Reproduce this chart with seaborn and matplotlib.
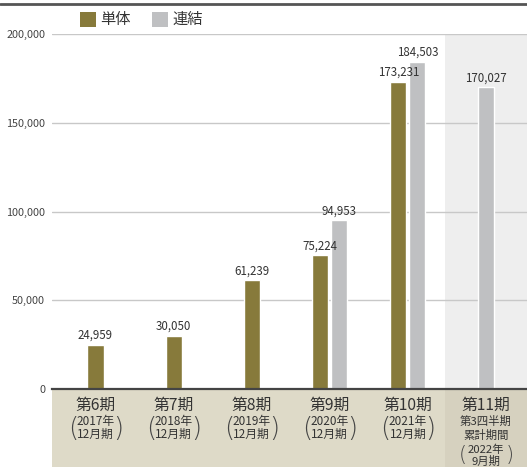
import matplotlib
matplotlib.use("Agg")
import matplotlib.pyplot as plt
import matplotlib.patches as mpatches
from matplotlib.lines import Line2D
from matplotlib.ticker import FuncFormatter
import seaborn as sns
import pandas as pd

# ---- data ----
categories = ["第6期", "第7期", "第8期", "第9期", "第10期", "第11期"]
sub_labels = ["2017年\n12月期", "2018年\n12月期", "2019年\n12月期",
              "2020年\n12月期", "2021年\n12月期", "2022年\n9月期"]
extra_label_11 = "第3四半期\n累計期間"
tantai = [24959, 30050, 61239, 75224, 173231, None]      # 単体
renketsu = [None, None, None, 94953, 184503, 170027]     # 連結
series_names = ["単体", "連結"]
yticks = [0, 50000, 100000, 150000, 200000]

TAN = "#877a3b"
GRAY = "#bfc0c2"
TEXT = "#333333"

sns.set_theme(style="white")
plt.rcParams['font.family'] = ['Noto Sans CJK JP', 'DejaVu Sans']

rows = []
for c, v in zip(categories, tantai):
    if v is not None:
        rows.append({"cat": c, "series": series_names[0], "value": v})
for c, v in zip(categories, renketsu):
    if v is not None:
        rows.append({"cat": c, "series": series_names[1], "value": v})
df = pd.DataFrame(rows)

W, H = 527, 467
fig = plt.figure(figsize=(W / 100, H / 100), dpi=100)
ax_left, ax_right, ax_bottom, ax_top = 52, 527, 389, 34
ax = fig.add_axes([ax_left / W, (H - ax_bottom) / H,
                   (ax_right - ax_left) / W, (ax_bottom - ax_top) / H])

bw = 0.205
sns.barplot(data=df, x="cat", y="value", hue="series", order=categories,
            hue_order=series_names, palette=[TAN, GRAY], dodge=False,
            width=bw, legend=False, ax=ax, zorder=3, saturation=1)

# shift pairs apart where both series exist
both = [i for i in range(len(categories))
        if tantai[i] is not None and renketsu[i] is not None]
off = 0.122
for k, cont in enumerate(ax.containers):
    sign = -1 if k == 0 else 1
    for bar in cont:
        cx = bar.get_x() + bar.get_width() / 2
        idx = int(round(cx))
        if idx in both:
            bar.set_x(bar.get_x() + sign * off)
    ax.bar_label(cont, labels=[f"{b.get_height():,.0f}" for b in cont],
                 padding=2, fontsize=8.3, color=TEXT)

xmin, xmax = -0.557, 5.525
ax.set_xlim(xmin, xmax)
ax.set_ylim(0, 200000)
ax.set_yticks(yticks)
ax.yaxis.set_major_formatter(FuncFormatter(lambda v, p: f"{int(v):,}"))
ax.tick_params(axis="y", length=0, pad=5, labelsize=7.8, labelcolor="#444444")
ax.set_xticks([])
ax.set_xlabel("")
ax.set_ylabel("")
for s in ["top", "right", "left"]:
    ax.spines[s].set_visible(False)
ax.spines["bottom"].set_color("#444444")
ax.spines["bottom"].set_linewidth(1.6)
ax.spines["bottom"].set_zorder(5)
ax.grid(axis="y", color="#c8c8c8", linewidth=1, zorder=1)
ax.set_axisbelow(True)

# shaded last column
ax.axvspan(4.475, xmax, color="#eeeeee", zorder=0, lw=0)

# label area below axis
def ypx(p):
    return (ax_bottom - p) / (ax_bottom - ax_top)

xt = ax.get_xaxis_transform()
lab_h = (H - ax_bottom) / (ax_bottom - ax_top)
ax.add_patch(mpatches.Rectangle((xmin, -lab_h), 4.475 - xmin, lab_h,
                                transform=xt, color="#dedac8", lw=0,
                                clip_on=False, zorder=0))
ax.add_patch(mpatches.Rectangle((4.475, -lab_h), xmax - 4.475, lab_h,
                                transform=xt, color="#d6d1bf", lw=0,
                                clip_on=False, zorder=0))

for i, (c, sl) in enumerate(zip(categories, sub_labels)):
    ax.text(i, ypx(405), c, transform=xt, ha="center", va="center",
            fontsize=11.3, color=TEXT, clip_on=False)
    l1, l2 = sl.split("\n")
    if i < 5:
        y1, y2 = 422, 434
        px = 0.29
        fs = 8.5
        pfs = 19
        ym = 429
    else:
        e1, e2 = extra_label_11.split("\n")
        ax.text(i, ypx(421), e1, transform=xt, ha="center", va="center",
                fontsize=8.2, color=TEXT, clip_on=False)
        ax.text(i, ypx(435), e2, transform=xt, ha="center", va="center",
                fontsize=8.2, color=TEXT, clip_on=False)
        y1, y2 = 450, 461
        px = 0.30
        fs = 8.2
        pfs = 15
        ym = 455
    ax.text(i, ypx(y1), l1, transform=xt, ha="center", va="center",
            fontsize=fs, color=TEXT, clip_on=False)
    ax.text(i, ypx(y2), l2, transform=xt, ha="center", va="center",
            fontsize=fs, color=TEXT, clip_on=False)
    for sx, ch in ((-px, "("), (px, ")")):
        ax.text(i + sx, ypx(ym), ch, transform=xt, ha="center", va="center",
                fontsize=pfs, color="#444444", clip_on=False,
                family="DejaVu Sans", fontweight="ultralight")

# legend
for x0, col, name in ((80, TAN, series_names[0]), (152, GRAY, series_names[1])):
    fig.add_artist(mpatches.Rectangle((x0 / W, (H - 27) / H), 15.5 / W, 15 / H,
                                      transform=fig.transFigure, color=col, lw=0))
    fig.text((x0 + 20) / W, (H - 19.5) / H, name, ha="left", va="center",
             fontsize=11, color=TEXT)

# top rule
fig.add_artist(Line2D([0, 1], [(H - 4) / H, (H - 4) / H],
                      transform=fig.transFigure, color="#555555", lw=2))

fig.savefig("out.png", dpi=100)
